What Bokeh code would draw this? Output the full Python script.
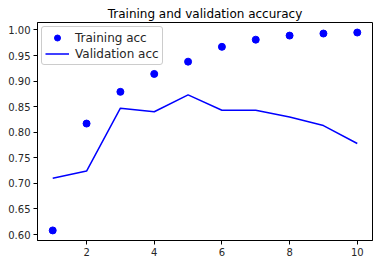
from bokeh.plotting import figure
from bokeh.embed import file_html
from bokeh.resources import INLINE
from bokeh.models import FixedTicker, Range1d, Legend, LegendItem

epochs = [1, 2, 3, 4, 5, 6, 7, 8, 9, 10]
train_acc = [0.608, 0.817, 0.879, 0.914, 0.938, 0.967, 0.981, 0.989, 0.993, 0.995]
val_acc = [0.710, 0.724, 0.847, 0.840, 0.873, 0.843, 0.843, 0.830, 0.813, 0.778]
x_ticks = [2, 4, 6, 8, 10]
y_ticks = [0.60, 0.65, 0.70, 0.75, 0.80, 0.85, 0.90, 0.95, 1.00]

FONT = "DejaVu Sans"

p = figure(width=381, height=264, output_backend="svg", toolbar_location=None,
           x_range=Range1d(0.55, 10.45), y_range=Range1d(0.5883, 1.0146),
           min_border_left=37, min_border_right=9, min_border_top=22, min_border_bottom=24,
           title="Training and validation accuracy")
p.title.text_font = FONT
p.title.text_font_size = "12px"
p.title.text_font_style = "normal"
p.title.align = "center"
p.title.text_color = "black"
p.title.offset = 0
p.title.standoff = 4

p.xgrid.visible = False
p.ygrid.visible = False
p.outline_line_color = "black"
p.outline_line_width = 1
p.outline_line_alpha = 1

for ax in (p.xaxis[0], p.yaxis[0]):
    ax.axis_line_color = "black"
    ax.major_tick_line_color = "black"
    ax.major_tick_out = 4
    ax.major_tick_in = 0
    ax.minor_tick_line_color = None
    ax.major_label_text_font = FONT
    ax.major_label_text_font_size = "10px"
    ax.major_label_text_color = "#262626"
    ax.major_label_standoff = 3

p.xaxis[0].ticker = FixedTicker(ticks=x_ticks)
p.yaxis[0].ticker = FixedTicker(ticks=y_ticks)
p.yaxis[0].major_label_overrides = {t: f"{t:.2f}" for t in y_ticks}
p.xaxis[0].major_label_overrides = {t: str(t) for t in x_ticks}

r_train = p.scatter(epochs, train_acc, size=7, color="blue", line_color="blue")
r_val = p.line(epochs, val_acc, line_color="blue", line_width=1.5)

legend = Legend(items=[LegendItem(label="Training acc", renderers=[r_train]),
                       LegendItem(label="Validation acc", renderers=[r_val])],
                location="top_left")
legend.label_text_font = FONT
legend.label_text_font_size = "12px"
legend.label_text_color = "#262626"
legend.label_height = 15
legend.glyph_height = 15
legend.glyph_width = 24
legend.spacing = 1
legend.padding = 3
legend.margin = 4
legend.border_line_color = "#cccccc"
legend.border_line_alpha = 1
legend.border_radius = 3
legend.background_fill_alpha = 0.8
legend.label_standoff = 6
p.add_layout(legend)

open("out.html", "w").write(file_html(p, INLINE))
